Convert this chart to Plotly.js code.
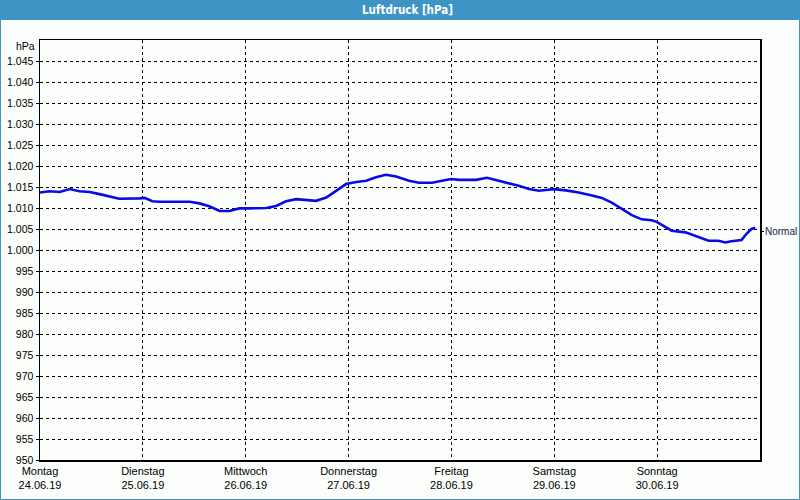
<!DOCTYPE html>
<html>
<head>
<meta charset="utf-8">
<script src="https://cdn.plot.ly/plotly-3.0.1.min.js"></script>
<style>
html,body{margin:0;padding:0;background:#fbfefb;}
#chart{width:800px;height:500px;}
</style>
</head>
<body>
<div id="chart"></div>
<script>
// Hours since Monday 24.06.19 00:00
const hours = [0,2.2,4.6,6.9,9.2,11.6,13.9,16.2,18.5,23.2,24.4,26.2,27.8,34.9,37.2,39.5,41.9,44.2,46.5,48.8,52.8,55.1,57.4,59.8,62.1,64.4,66.8,69.1,71.4,73.8,76.1,78.4,80.7,83.1,86.1,88.4,91.5,93.8,95.9,97.8,101.7,104.3,107.1,109.4,111.7,114.1,116.4,118.0,119.9,122.7,125.7,128.8,131.1,133.4,135.8,138.1,140.4,142.7,143.9,147.4,150.6,153.6,156.0,158.3,159.9,161.3,163.7,164.8,166.0,166.9];
const pressure = [1013.7,1014.0,1013.8,1014.5,1014.0,1013.8,1013.3,1012.7,1012.2,1012.3,1012.4,1011.6,1011.5,1011.5,1011.1,1010.4,1009.3,1009.3,1009.9,1009.9,1010.0,1010.5,1011.6,1012.1,1011.9,1011.7,1012.5,1014.1,1015.7,1016.2,1016.5,1017.3,1017.9,1017.5,1016.5,1016.0,1016.0,1016.5,1016.9,1016.7,1016.7,1017.2,1016.5,1016.0,1015.3,1014.5,1014.1,1014.3,1014.5,1014.2,1013.7,1013.0,1012.4,1011.3,1009.7,1008.3,1007.3,1007.1,1006.7,1004.6,1004.2,1003.0,1002.2,1002.2,1001.8,1002.1,1002.4,1003.8,1005.0,1005.3];
const dayTicks = [0,24,48,72,96,120,144];
const dayLabels = ["Montag<br>24.06.19","Dienstag<br>25.06.19","Mittwoch<br>26.06.19","Donnerstag<br>27.06.19","Freitag<br>28.06.19","Samstag<br>29.06.19","Sonntag<br>30.06.19"];
const yTicks = [950,955,960,965,970,975,980,985,990,995,1000,1005,1010,1015,1020,1025,1030,1035,1040,1045];
const yLabels = ["950","955","960","965","970","975","980","985","990","995","1.000","1.005","1.010","1.015","1.020","1.025","1.030","1.035","1.040","1.045"];
const unitLabel = "hPa";
const chartTitle = "Luftdruck [hPa]";
const seriesName = "Normal";
const normalLevel = 1004.4;

const bg = "#fbfefb";
const blue = "#3d94c5";
const plotH = 420, plotW = 720;

const trace = {
  x: hours, y: pressure, type: "scatter", mode: "lines",
  line: {color: "#0a0ae6", width: 2.6},
  name: seriesName, hoverinfo: "skip"
};

const layout = {
  width: 800, height: 500,
  margin: {l: 40, r: 40, t: 40, b: 40},
  paper_bgcolor: bg, plot_bgcolor: bg,
  showlegend: false,
  font: {family: "Liberation Sans, Arial, sans-serif", size: 11, color: "#000"},
  xaxis: {
    range: [0, 168], tickmode: "array", tickvals: dayTicks, ticktext: dayLabels,
    showgrid: true, gridcolor: "#000", gridwidth: 1, griddash: "3px,3px",
    showline: true, linecolor: "#000", linewidth: 1.5, mirror: true,
    ticks: "", zeroline: false, tickfont: {size: 11, color: "#000"}
  },
  yaxis: {
    range: [950, 1050], tickmode: "array", tickvals: yTicks, ticktext: yLabels,
    showgrid: true, gridcolor: "#000", gridwidth: 1, griddash: "3px,3px",
    showline: true, linecolor: "#000", linewidth: 1.5, mirror: true,
    ticks: "outside", ticklen: 3, tickcolor: "#000", zeroline: false,
    tickfont: {size: 10.5, color: "#000"}
  },
  shapes: [
    {type: "rect", xref: "paper", yref: "paper", layer: "below",
     x0: -40/plotW, x1: 1 + 40/plotW, y0: 1 + 20/plotH, y1: 1 + 40/plotH,
     fillcolor: blue, line: {width: 0}},
    {type: "rect", xref: "paper", yref: "paper", layer: "below",
     x0: -39.5/plotW, x1: 1 + 39.5/plotW, y0: -39.5/plotH, y1: 1 + 30/plotH,
     fillcolor: "rgba(0,0,0,0)", line: {color: blue, width: 1}},
    {type: "line", xref: "paper", yref: "y",
     x0: 1, x1: 1 + 4/plotW, y0: normalLevel, y1: normalLevel,
     line: {color: "#000", width: 1}}
  ],
  annotations: [
    {text: "<b>" + chartTitle + "</b>", xref: "paper", yref: "paper",
     x: 0.5 + 7/plotW, y: 1 + 30/plotH, xanchor: "center", yanchor: "middle",
     showarrow: false, font: {family: "DejaVu Sans Condensed, Liberation Sans, sans-serif", size: 11.5, color: "#fff"}},
    {text: seriesName, xref: "paper", yref: "y", x: 1 + 3/plotW, y: normalLevel,
     xanchor: "left", yanchor: "middle", showarrow: false,
     font: {size: 10, color: "#1a1a40"}},
    {text: unitLabel, xref: "paper", yref: "y", x: -3/plotW, y: 1048.6,
     xanchor: "right", yanchor: "middle", showarrow: false,
     font: {size: 10.5, color: "#000"}}
  ]
};

Plotly.newPlot("chart", [trace], layout, {displayModeBar: false, staticPlot: true});
</script>
</body>
</html>
